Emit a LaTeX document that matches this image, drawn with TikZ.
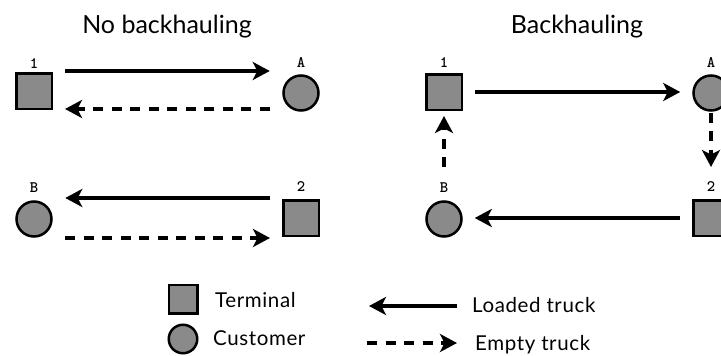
\documentclass[tikz,border=0pt]{standalone}
\usepackage{fontspec}
\setmainfont{Lato}
\newfontfamily\legendfont[LetterSpace=3]{Lato}
\usetikzlibrary{arrows.meta}
\definecolor{termgray}{RGB}{138,138,138}
\begin{document}
\begin{tikzpicture}[x=1pt,y=-1pt,
  terminal/.style={draw=black,fill=termgray,line width=2.5pt,minimum size=35.5pt,inner sep=0pt},
  customer/.style={circle,draw=black,fill=termgray,line width=2.5pt,minimum size=35pt,inner sep=0pt},
  smallterminal/.style={terminal,minimum size=28.5pt},
  smallcustomer/.style={customer,minimum size=28.5pt},
  tag/.style={font=\ttfamily\bfseries\fontsize{16}{16}\selectfont,inner sep=0pt},
  heading/.style={font=\fontsize{25}{25}\selectfont,inner sep=0pt,anchor=base},
  legendtext/.style={font=\legendfont\fontsize{20.5}{20.5}\selectfont,inner sep=0pt,anchor=base west},
  loaded/.style={line width=4pt,-{Stealth[length=17pt,width=18pt,inset=4.5pt]}},
  empty/.style={loaded,dash pattern=on 10pt off 8.5pt}
]
\useasboundingbox (0,0) rectangle (721,356);

% headings
\node[heading] (h1) at (167,33) {No backhauling};
\node[heading] (h2) at (577,33) {Backhauling};

% ---------- without backhauling ----------
\node[terminal] (ls1) at (34,91) {};
\node[customer] (lcA) at (301,93) {};
\node[customer] (lcB) at (34,219) {};
\node[terminal] (ls2) at (301,218) {};
\node[tag] (lt1) at (34,64) {1};
\node[tag] (ltA) at (301,63) {A};
\node[tag] (ltB) at (34,188) {B};
\node[tag] (lt2) at (301,187) {2};

\draw[loaded,shorten <=12pt,shorten >=12.5pt]
  ([yshift=20pt]ls1.east) -- ([yshift=20pt]ls1.east -| lcA.west);
\draw[empty,shorten <=12.5pt,shorten >=12pt]
  ([yshift=-18pt]ls1.east -| lcA.west) -- ([yshift=-18pt]ls1.east);
\draw[loaded,shorten <=12pt,shorten >=12.5pt]
  ([yshift=20pt]ls2.west) -- ([yshift=20pt]ls2.west -| lcB.east);
\draw[empty,shorten <=12.5pt,shorten >=12pt]
  ([yshift=-20pt]ls2.west -| lcB.east) -- ([yshift=-20pt]ls2.west);

% ---------- with backhauling ----------
\node[terminal] (rs1) at (444,92) {};
\node[customer] (rcA) at (711,93) {};
\node[customer] (rcB) at (444,219) {};
\node[terminal] (rs2) at (711,218) {};
\node[tag] (rt1) at (444,63) {1};
\node[tag] (rtA) at (711,63) {A};
\node[tag] (rtB) at (444,188) {B};
\node[tag] (rt2) at (711,187) {2};

\draw[loaded,shorten <=12pt,shorten >=12pt] (rs1.east) -- (rs1.east -| rcA.west);
\draw[empty,shorten <=1pt,shorten >=32pt] (rcA.south) -- (rs2.north);
\draw[loaded,shorten <=12pt,shorten >=12pt] (rs2.west) -- (rs2.west -| rcB.east);
\draw[empty,shorten <=33pt,shorten >=5pt] (rcB.north) -- (rs1.south);

% ---------- legend ----------
\node[smallterminal] (kt) at (183,299) {};
\node[smallcustomer] (kc) at (183,339) {};
\node[legendtext] (ktt) at (215,307.5) {Terminal};
\node[legendtext] (kct) at (213,345.5) {Customer};

\coordinate (ka0) at (457,306);
\coordinate (ka1) at (369,306);
\coordinate (kb0) at (367,343);
\coordinate (kb1) at (457,343);
\draw[loaded] (ka0) -- (ka1);
\draw[empty] (kb0) -- (kb1);
\node[legendtext] (kat) at (472,312) {Loaded truck};
\node[legendtext] (kbt) at (475,350) {Empty truck};
\end{tikzpicture}
\end{document}
